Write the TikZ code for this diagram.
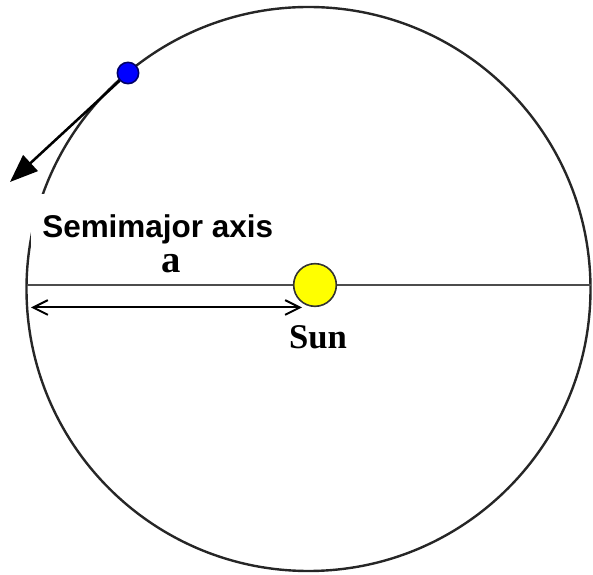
\documentclass[tikz,border=0pt]{standalone}
\usepackage{fontspec}
\usepackage{tikz}
\usetikzlibrary{arrows.meta}
\newfontfamily\labelsans{Liberation Sans}
\newfontfamily\labelserif{Liberation Serif}
\definecolor{sunyellow}{RGB}{255,255,0}
\definecolor{planetblue}{RGB}{0,0,255}

\begin{document}
\begin{tikzpicture}[
  x=0.75pt, y=0.75pt,
  orbit/.style={draw=black!85, line width=1.8pt},
  axisline/.style={draw=black!70, line width=2pt},
  body/.style={circle, inner sep=0pt, line width=1.2pt},
  arr/.style={-{Triangle[length=21pt, width=16pt]}, line width=1.9pt},
  dimarr/.style={{Straight Barb[length=11pt, width=11pt]}-{Straight Barb[length=11pt, width=11pt]}, line width=1.5pt},
  lbl/.style={font=\labelserif\bfseries, inner sep=0pt, anchor=base}]
\useasboundingbox (0,0) rectangle (593,575);
\coordinate (c) at (308.5,286);
\draw[orbit] (c) circle (282);
\coordinate (left) at (26.5,290);
\coordinate (right) at (590.5,290);
\draw[axisline] (left) -- (right);
\node[body, fill=sunyellow, draw=black!80, minimum size=32pt] (sun) at (315,290) {};
\node[body, fill=planetblue, draw=blue!40!black, minimum size=16pt] (planet) at (128,502) {};
\coordinate (tip) at (10,393);
\draw[arr] (planet) -- (tip);
\node[fill=white, anchor=north west, inner xsep=8.25pt, inner ysep=0pt,
      text height=32.25pt, text depth=8.25pt,
      font=\labelsans\bfseries\fontsize{23.6}{24}\selectfont] (semi) at (31,381) {Semimajor axis};
\coordinate (aL) at (31,267.5);
\coordinate (aR) at (302,267.5);
\draw[dimarr] (aL) -- (aR);
\node[lbl, font=\labelserif\bfseries\fontsize{29}{29}\selectfont] (alabel) at (170.7,302) {a};
\node[lbl, font=\labelserif\bfseries\fontsize{26}{26}\selectfont] (sunlabel) at (318,226) {Sun};
\end{tikzpicture}
\end{document}
